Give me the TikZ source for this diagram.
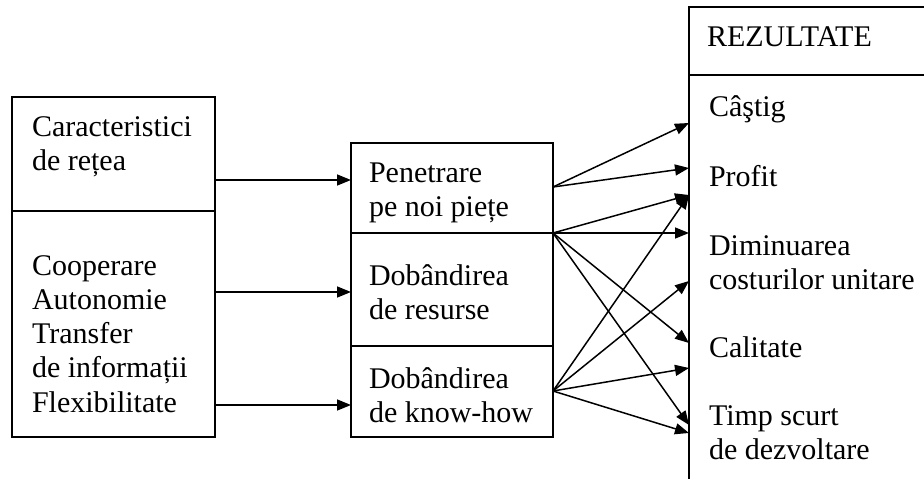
\documentclass[tikz,border=0pt]{standalone}
\usepackage{fontspec}
\setmainfont{Liberation Serif}
\usetikzlibrary{arrows.meta}
\begin{document}
\begin{tikzpicture}[x=1pt,y=-1pt,
  box/.style={draw,line width=1.5pt,rectangle,inner sep=0pt,outer sep=0pt,anchor=north west},
  txt/.style={anchor=base west,inner sep=0pt,outer sep=0pt,font=\fontsize{30}{34.3}\selectfont},
  arr/.style={line width=1.5pt,-{Triangle[length=14pt,width=11pt]}}]
\useasboundingbox (0,0) rectangle (924,479);
\fill[white] (0,0) rectangle (924,479);
\clip (0,0) rectangle (924,479);

% left box
\node[box,minimum width=203pt,minimum height=114pt] (cA) at (12,97) {};
\node[box,minimum width=203pt,minimum height=226pt] (cB) at (12,211) {};
% middle box
\node[box,minimum width=202pt,minimum height=90pt] (mA) at (351,143) {};
\node[box,minimum width=202pt,minimum height=113pt] (mB) at (351,233) {};
\node[box,minimum width=202pt,minimum height=91pt] (mC) at (351,346) {};
% right box
\node[box,minimum width=300pt,minimum height=68pt] (rA) at (689,7) {};
\node[box,minimum width=300pt,minimum height=450pt] (rB) at (689,75) {};

% texts
\node[txt] (tA) at (32,136) {\vtop{\hbox{Caracteristici}\hbox{de rețea}}};
\node[txt] (tB) at (32,275) {\vtop{\hbox{Cooperare}\hbox{Autonomie}\hbox{Transfer}\hbox{de informații}\hbox{Flexibilitate}}};
\node[txt] (tM1) at (369,182) {\vtop{\hbox{Penetrare}\hbox{pe noi piețe}}};
\node[txt] (tM2) at (369,285) {\vtop{\hbox{Dobândirea}\hbox{de resurse}}};
\node[txt] (tM3) at (369,388) {\vtop{\hbox{Dobândirea}\hbox{de know-how}}};
\node[txt] (tR0) at (707,46) {REZULTATE};
\node[txt] (tR1) at (709,116) {Câştig};
\node[txt] (tR2) at (709,186) {Profit};
\node[txt] (tR3) at (709,255) {\vtop{\hbox{Diminuarea}\hbox{costurilor unitare}}};
\node[txt] (tR4) at (709,357) {Calitate};
\node[txt] (tR5) at (709,425) {\vtop{\hbox{Timp scurt}\hbox{de dezvoltare}}};

% left to middle
\draw[arr] (cA.east |- 0,180) -- (mA.west |- 0,180);
\draw[arr] (cB.east |- 0,292) -- (mB.west |- 0,292);
\draw[arr] (cB.east |- 0,405) -- (mC.west |- 0,405);

% middle to right
\coordinate (s1) at (mA.east |- 0,187);
\coordinate (s2) at (mA.south east);
\coordinate (s3) at (mC.east |- 0,391);
\draw[arr] (s1) -- (rB.west |- 0,123);
\draw[arr] (s1) -- (rB.west |- 0,168);
\draw[arr] (s2) -- (rB.west |- 0,195);
\draw[arr] (s2) -- (rB.west |- 0,233);
\draw[arr] (s2) -- (rB.west |- 0,343);
\draw[arr] (s2) -- (rB.west |- 0,425);
\draw[arr] (s3) -- (rB.west |- 0,195);
\draw[arr] (s3) -- (rB.west |- 0,281);
\draw[arr] (s3) -- (rB.west |- 0,368);
\draw[arr] (s3) -- (rB.west |- 0,433);
\end{tikzpicture}
\end{document}
